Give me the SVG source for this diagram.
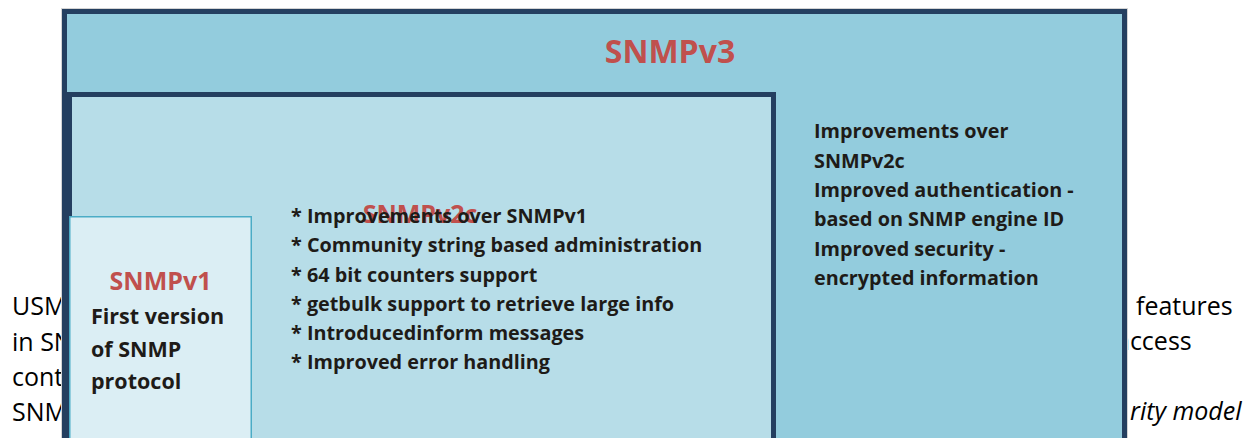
<svg xmlns="http://www.w3.org/2000/svg" width="1251" height="438" viewBox="0 0 1251 438">
  <style>
    .body { font-family: "Open Sans", "Liberation Sans", sans-serif; font-size: 25px; fill: #000000; }
    .title { font-family: "Open Sans", "Liberation Sans", sans-serif; font-weight: bold; fill: #C0504D; text-anchor: middle; }
    .txt { font-family: "Open Sans", "Liberation Sans", sans-serif; font-weight: bold; font-size: 19.8px; fill: #1E1B18; }
    .big { font-size: 21.5px; }
    .frame { stroke: #243F60; stroke-width: 5; }
  </style>
  <rect x="0" y="0" width="1251" height="438" fill="#FFFFFF"/>
  <g id="background-text" class="body">
    <text x="12" y="315">USM</text>
    <text x="12" y="351">in SN</text>
    <text x="12" y="386">cont</text>
    <text x="12" y="421">SNM</text>
    <text x="1136" y="315">features</text>
    <text x="1116" y="350">access</text>
    <text x="1130" y="420" font-style="italic">rity model</text>
  </g>
  <g id="snmpv3">
    <rect x="61.5" y="8.5" width="1066" height="450" fill="none" stroke="#D4D4D4" stroke-width="1"/>
    <rect class="frame" x="64.5" y="11.5" width="1060" height="450" fill="#93CCDD"/>
    <text class="title" x="670" y="63" font-size="32px">SNMPv3</text>
    <text class="txt" x="814" y="138">Improvements over</text>
    <text class="txt" x="814" y="167.5">SNMPv2c</text>
    <text class="txt" x="814" y="197">Improved authentication -</text>
    <text class="txt" x="814" y="226">based on SNMP engine ID</text>
    <text class="txt" x="814" y="255.5">Improved security -</text>
    <text class="txt" x="814" y="285">encrypted information</text>
  </g>
  <g id="snmpv2c">
    <rect class="frame" x="69.5" y="94.5" width="704" height="370" fill="#B7DDE8"/>
    <text class="title" x="420" y="223" font-size="25px">SNMPv2c</text>
    <text class="txt" x="291" y="223">* Improvements over SNMPv1</text>
    <text class="txt" x="291" y="252">* Community string based administration</text>
    <text class="txt" x="291" y="282">* 64 bit counters support</text>
    <text class="txt" x="291" y="311">* getbulk support to retrieve large info</text>
    <text class="txt" x="291" y="340">* Introducedinform messages</text>
    <text class="txt" x="291" y="369">* Improved error handling</text>
  </g>
  <g id="snmpv1">
    <rect x="69.75" y="216.75" width="181.5" height="240" fill="#DBEEF4" stroke="#4BACC6" stroke-width="1.5"/>
    <text class="title" x="160.5" y="290" font-size="25px">SNMPv1</text>
    <text class="txt big" x="91" y="324">First version</text>
    <text class="txt big" x="91" y="356.5">of SNMP</text>
    <text class="txt big" x="91" y="389">protocol</text>
  </g>
  <g id="connectors"/>
</svg>
